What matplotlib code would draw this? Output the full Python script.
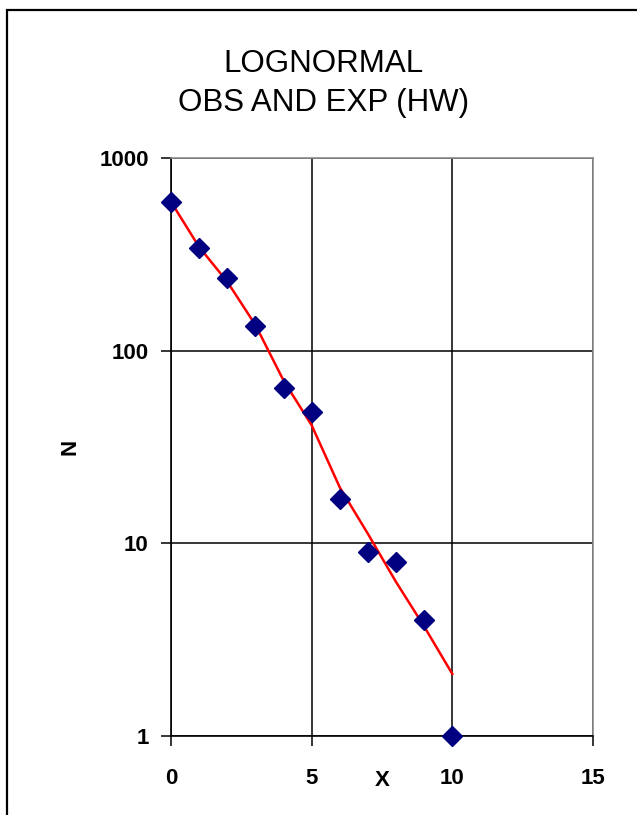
import numpy as np
import matplotlib.pyplot as plt
from matplotlib.patches import Rectangle
from matplotlib.transforms import blended_transform_factory

plt.rcParams['font.family'] = ['Liberation Sans', 'DejaVu Sans']

# observed counts and expected (lognormal fit) per class
x = [0, 1, 2, 3, 4, 5, 6, 7, 8, 9, 10]
observed = [592, 341, 238, 134, 64, 48, 17, 9, 8, 4, 1]
expected = [592, 345, 228, 136, 70, 41, 19.5, 11.2, 6.3, 3.7, 2.1]

fig = plt.figure(figsize=(6.37, 8.15), dpi=100)
ax = fig.add_axes([0.2685, 0.0969, 0.6624, 0.7092])

# outer frame of the chart area
fig.patches.append(Rectangle((7 / 637, -0.1), 1.2, 1.1 - 10 / 815,
                             transform=fig.transFigure, fill=False,
                             edgecolor='black', linewidth=1.6))

ax.plot(x, expected, color='red', linewidth=1.8, zorder=3)
ax.plot(x, observed, linestyle='none', marker='D', markersize=10,
        color='#000080', clip_on=False, zorder=4)

ax.set_yscale('log')
ax.set_xlim(0, 15)
ax.set_ylim(1, 1000)
ax.set_xticks([0, 5, 10, 15])
ax.set_yticks([1, 10, 100, 1000])
ax.set_yticklabels(['1', '10', '100', '1000'])
ax.minorticks_off()
ax.grid(True, color='black', linewidth=1.1)
ax.set_axisbelow(True)

ax.tick_params(axis='both', direction='out', length=7, width=1.1,
               labelsize=16, color='black')
ax.tick_params(axis='x', pad=16)
ax.tick_params(axis='y', pad=9)
for lbl in ax.get_xticklabels() + ax.get_yticklabels():
    lbl.set_fontweight('bold')

for side in ['left', 'bottom']:
    ax.spines[side].set_color('black')
    ax.spines[side].set_linewidth(1.2)
for side in ['top', 'right']:
    ax.spines[side].set_color('#8c8c8c')
    ax.spines[side].set_linewidth(1.2)

fig.text(70 / 637, 1 - 447 / 815, 'N', rotation=90, ha='center',
         va='center', fontsize=16, fontweight='bold')
trans = blended_transform_factory(ax.transData, ax.transAxes)
ax.text(7.5, -0.077, 'X', transform=trans, ha='center', va='center',
        fontsize=16, fontweight='bold')

fig.text(0.508, 0.921, 'LOGNORMAL', ha='center', va='center', fontsize=22.5)
fig.text(0.508, 0.874, 'OBS AND EXP (HW)', ha='center', va='center',
         fontsize=22.5)

fig.savefig('out.png', dpi=100)
